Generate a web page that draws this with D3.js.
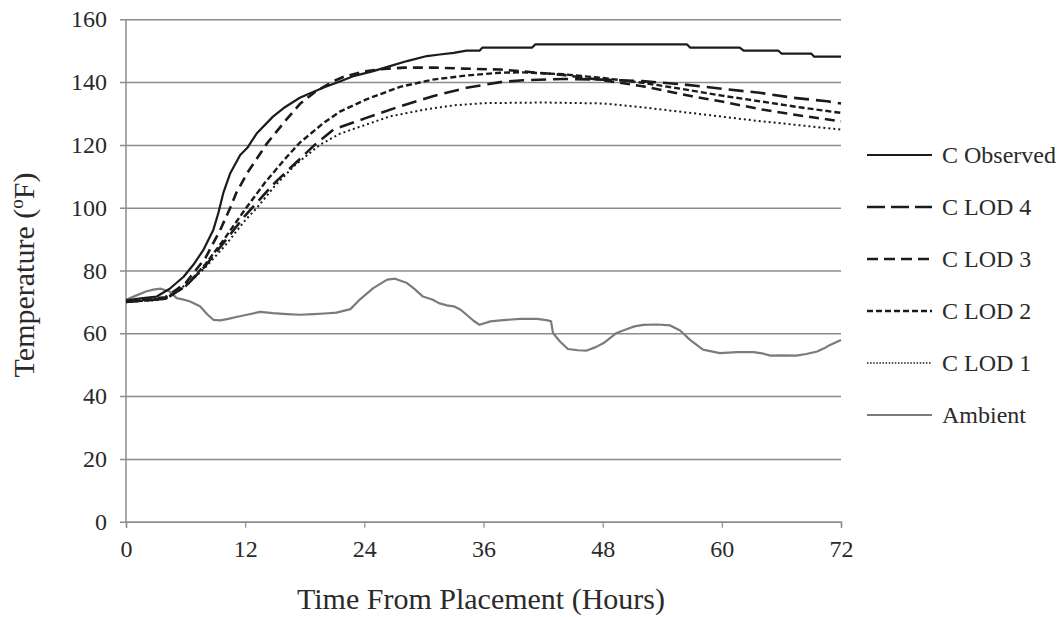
<!DOCTYPE html>
<html>
<head>
<meta charset="utf-8">
<script src="https://cdn.jsdelivr.net/npm/d3@7"></script>
<style>
  html, body { margin: 0; padding: 0; background: #fff; }
  svg { display: block; }
  text { font-family: "Liberation Serif", "Times New Roman", serif; fill: #2a2a2a; }
</style>
</head>
<body>
<svg id="chart" width="1061" height="617"></svg>
<script>
// Concrete temperature vs. time since placement (hours, °F)
const xTicks = [0, 12, 24, 36, 48, 60, 72];
const yTicks = [0, 20, 40, 60, 80, 100, 120, 140, 160];

const observed = [
  [0,70.5],[1.7,71.2],[3.1,71.7],[4.4,74.2],[5.8,78],[6.8,81.9],[7.8,86.6],[8.8,93],
  [9.3,98.3],[9.8,104.7],[10.5,111],[11.5,116.8],[12.2,119],[13.2,123.8],[14.8,129],
  [16,132],[17.5,135],[19.9,138.3],[21.6,140.3],[23,142],[24.9,143.5],[26.5,145],
  [28.3,146.7],[30.3,148.3],[31.6,148.8],[33,149.3],[34.3,150],[35.6,150],[35.9,151],
  [40.9,151],[41.2,152],[56.5,152],[56.8,151],[61.8,151],[62.2,150],[65.7,150],
  [66,149.1],[69,149.1],[69.3,148.1],[72,148.1]
];
const lod4 = [
  [0,70],[4,71],[6,75],[8,81.5],[10,89.5],[12,97.5],[13,101],[15,108],[17,114],[19,120],
  [20.9,124.9],[24.2,128.6],[27.6,132.3],[30.9,135.5],[34.3,138.2],[37.7,140],[40,140.6],
  [44,141],[48,140.8],[52,140.3],[56,139.3],[60.5,137.7],[63.8,136.6],[67.2,135],
  [70.6,133.9],[72,133.2]
];
const lod3 = [
  [0,70],[4,71.5],[6,76],[8,84],[9.5,93],[10.5,100],[11.1,104.7],[12.2,111],[14.2,120.5],
  [16,127.5],[17.5,133],[19,136.8],[20.9,140.3],[22,141.8],[24,143.4],[26,144.2],[28,144.6],
  [31,144.6],[34,144.3],[37.7,144],[40,143.4],[44,142.3],[48,140.6],[52,138.7],[57,135.5],
  [60,133.8],[64,131.3],[68,129.3],[72,127.5]
];
const lod2 = [
  [0,70],[4,71],[6,75],[8,82],[10,90.5],[12,99.5],[14,108],[16,115.5],[17.5,120.7],
  [19.9,127],[21.6,130.7],[24.2,134.5],[27.6,138.5],[30.9,140.8],[34.3,142.1],[37.7,143],
  [40,143.1],[44,142.5],[48,141.3],[52,139.8],[56,137.8],[60,135.7],[64,133.8],[68,131.9],
  [72,130.2]
];
const lod1 = [
  [0,70],[3,70.5],[5,73],[7,78],[8,81],[10,88],[12,96],[13.2,100],[15,107],[17,113.5],
  [19.5,120],[21.5,123.5],[23.2,125.4],[26.6,129.1],[30,131.2],[33,132.6],[36,133.3],
  [42,133.5],[48,133.2],[52,132],[56,130.5],[60,129],[64,127.5],[68,126.2],[72,124.9]
];
const ambient = [
  [0,70.7],[1,72],[2,73.3],[2.75,73.9],[3.5,74.2],[4.4,73.3],[5.1,71.2],[5.7,70.8],
  [6.4,70.2],[7.45,68.6],[8.2,66],[8.8,64.3],[9.5,64.1],[10.3,64.6],[11.1,65.2],[12.3,66],
  [13.5,66.8],[14.8,66.4],[16.2,66.1],[17.5,65.9],[18.9,66.1],[20,66.3],[21.2,66.6],
  [22.6,67.7],[23.6,70.9],[24.9,74.4],[26.3,77.1],[27.1,77.4],[28.3,76],[29.1,74],
  [29.9,71.7],[30.9,70.7],[31.5,69.6],[32.3,68.9],[33,68.6],[33.7,67.5],[34.3,65.9],
  [35,64],[35.6,62.7],[36.7,63.8],[38,64.2],[39.7,64.6],[41.4,64.6],[42.5,64.1],[42.8,63.8],
  [43,60.1],[43.7,57.4],[44.5,55],[45.5,54.6],[46.4,54.5],[47.3,55.6],[48.1,56.9],
  [49.4,60.1],[50.4,61.3],[51.2,62.2],[52.1,62.7],[53.5,62.8],[54.8,62.5],[55.8,60.9],
  [56.8,57.9],[58.1,54.8],[59.8,53.7],[61.5,54],[63.2,54],[64.2,53.5],[64.9,52.9],[66,53],
  [67.5,52.9],[68.5,53.4],[69.6,54.2],[70.3,55.2],[70.9,56.3],[72,57.9]
];

const seriesNames = ["C Observed", "C LOD 4", "C LOD 3", "C LOD 2", "C LOD 1", "Ambient"];
const seriesData = [observed, lod4, lod3, lod2, lod1, ambient];

// line styling per series (plot, legend)
const styles = [
  { stroke: "#1b1b1b", width: 2.2, dash: null,    legendDash: null },
  { stroke: "#1b1b1b", width: 2.6, dash: "15,7",  legendDash: "18,6" },
  { stroke: "#1b1b1b", width: 2.6, dash: "10,6",  legendDash: "11,6" },
  { stroke: "#1b1b1b", width: 2.4, dash: "6,3",   legendDash: "6,3" },
  { stroke: "#1b1b1b", width: 2.0, dash: "2,3",   legendDash: "1.5,1.6" },
  { stroke: "#7c7c74", width: 2.2, dash: null,    legendDash: null }
];

const svg = d3.select("#chart");
const x = d3.scaleLinear().domain([0, 72]).range([126, 841]);
const y = d3.scaleLinear().domain([0, 160]).range([521.7, 19.3]);

const gridColor = "#8c8c8c";

// horizontal gridlines with left tick marks
const yAxis = d3.axisLeft(y).tickValues(yTicks).tickSize(-(x(72) - x(0))).tickPadding(19);
const gy = svg.append("g").attr("transform", `translate(${x(0)},0)`).call(yAxis);
gy.select(".domain").remove();
gy.selectAll(".tick line").attr("stroke", gridColor).attr("stroke-width", 1.5)
  .attr("x1", -6);
gy.selectAll(".tick text").attr("font-size", 24).attr("fill", "#2a2a2a")
  .style("font-family", "'Liberation Serif', serif");

// vertical axis line
svg.append("line")
  .attr("x1", x(0)).attr("x2", x(0)).attr("y1", y(160)).attr("y2", y(0))
  .attr("stroke", gridColor).attr("stroke-width", 1.5);

// x axis with downward ticks
const xAxis = d3.axisBottom(x).tickValues(xTicks).tickSize(6).tickPadding(12);
const gx = svg.append("g").attr("transform", `translate(0,${y(0)})`).call(xAxis);
gx.select(".domain").attr("stroke", gridColor).attr("stroke-width", 1.5);
gx.selectAll(".tick line").attr("stroke", gridColor).attr("stroke-width", 1.2);
gx.selectAll(".tick text").attr("font-size", 24).attr("fill", "#2a2a2a")
  .style("font-family", "'Liberation Serif', serif");

// series lines
const line = d3.line().x(d => x(d[0])).y(d => y(d[1])).curve(d3.curveLinear);
const drawOrder = [5, 4, 3, 2, 1, 0];
drawOrder.forEach(i => {
  const s = styles[i];
  svg.append("path")
    .datum(seriesData[i])
    .attr("d", line)
    .attr("fill", "none")
    .attr("stroke", s.stroke)
    .attr("stroke-width", s.width)
    .attr("stroke-linejoin", "round")
    .attr("stroke-dasharray", s.dash);
});

// legend
const legendY = d3.scalePoint().domain(seriesNames).range([155, 415]);
const lg = svg.append("g");
seriesNames.forEach((name, i) => {
  const s = styles[i];
  const yy = legendY(name);
  lg.append("line")
    .attr("x1", 867).attr("x2", 932).attr("y1", yy).attr("y2", yy)
    .attr("stroke", s.stroke)
    .attr("stroke-width", i === 4 ? 1.6 : s.width)
    .attr("stroke-dasharray", s.legendDash);
  lg.append("text")
    .attr("x", 942).attr("y", yy + 8)
    .attr("font-size", 24)
    .text(name);
});

// axis titles
svg.append("text")
  .attr("x", 481).attr("y", 609)
  .attr("text-anchor", "middle")
  .attr("font-size", 30)
  .attr("fill", "#2a302a")
  .text("Time From Placement (Hours)");

const yt = svg.append("text")
  .attr("transform", "translate(34,275) rotate(-90)")
  .attr("text-anchor", "middle")
  .attr("font-size", 30)
  .attr("fill", "#2a302a");
yt.append("tspan").text("Temperature (");
yt.append("tspan").attr("font-size", 19).attr("dy", -11).text("o");
yt.append("tspan").attr("dy", 11).text("F)");
</script>
</body>
</html>
